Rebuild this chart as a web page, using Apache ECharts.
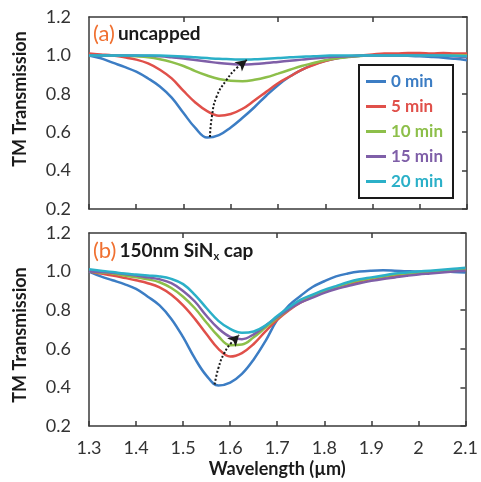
<!DOCTYPE html>
<html>
  <head>
    <meta charset="utf-8" />
    <title>TM Transmission</title>
    <script src="https://cdn.jsdelivr.net/npm/echarts@6/dist/echarts.min.js"></script>
    <style>
      html, body { margin: 0; padding: 0; background: #fff; }
      #chart { width: 481px; height: 482px; }
    </style>
  </head>
  <body>
    <div id="chart"></div>
    <script type="text/javascript">
      // Wavelength samples (um), 1.300 .. 2.100 every 0.025
      var wavelength = [1.300, 1.325, 1.350, 1.375, 1.400, 1.425, 1.450, 1.475, 1.500, 1.525, 1.550,
                        1.575, 1.600, 1.625, 1.650, 1.675, 1.700, 1.725, 1.750, 1.775, 1.800, 1.825,
                        1.850, 1.875, 1.900, 1.925, 1.950, 1.975, 2.000, 2.025, 2.050, 2.075, 2.100];

      var names = ['0 min', '5 min', '10 min', '15 min', '20 min'];
      var colors = ['#3c7dc4', '#e0504a', '#8dbf4a', '#7f5fa8', '#2bb0c8'];

      // (a) uncapped
      var uncapped0  = [1.00, 0.985, 0.962, 0.94, 0.915, 0.88, 0.838, 0.78, 0.70, 0.622, 0.572,
                        0.585, 0.625, 0.675, 0.73, 0.79, 0.845, 0.89, 0.925, 0.952, 0.972, 0.985,
                        0.993, 0.998, 1.00, 1.00, 1.00, 0.998, 0.995, 0.992, 0.988, 0.982, 0.975];
      var uncapped5  = [1.01, 1.005, 1.00, 0.99, 0.978, 0.958, 0.925, 0.88, 0.815, 0.755, 0.71,
                        0.686, 0.695, 0.722, 0.765, 0.81, 0.855, 0.89, 0.925, 0.95, 0.97, 0.985,
                        0.995, 1.00, 1.005, 1.01, 1.01, 1.012, 1.012, 1.01, 1.012, 1.01, 1.01];
      var uncapped10 = [1.00, 1.00, 1.00, 0.998, 0.995, 0.99, 0.98, 0.965, 0.945, 0.918, 0.895,
                        0.877, 0.868, 0.866, 0.873, 0.886, 0.905, 0.925, 0.945, 0.96, 0.975, 0.985,
                        0.992, 0.997, 1.00, 1.00, 1.00, 1.00, 1.00, 1.00, 1.00, 1.00, 1.00];
      var uncapped15 = [1.00, 1.00, 1.00, 1.00, 1.00, 0.998, 0.995, 0.99, 0.984, 0.976, 0.968,
                        0.96, 0.955, 0.952, 0.955, 0.96, 0.966, 0.972, 0.978, 0.984, 0.989, 0.993,
                        0.996, 0.998, 1.00, 1.00, 1.00, 1.00, 1.00, 1.00, 0.998, 0.995, 0.99];
      var uncapped20 = [1.00, 1.00, 1.00, 1.00, 1.00, 1.00, 0.999, 0.997, 0.994, 0.99, 0.986,
                        0.982, 0.98, 0.978, 0.98, 0.983, 0.986, 0.99, 0.993, 0.996, 0.998, 1.00,
                        1.00, 1.00, 1.00, 1.00, 1.00, 1.00, 1.00, 1.00, 1.00, 0.998, 0.995];

      // (b) 150nm SiNx cap
      var capped0  = [1.00, 0.975, 0.955, 0.935, 0.91, 0.87, 0.825, 0.755, 0.66, 0.55, 0.46,
                      0.41, 0.425, 0.47, 0.545, 0.64, 0.75, 0.825, 0.875, 0.92, 0.95, 0.975,
                      0.99, 1.00, 1.005, 1.007, 1.005, 1.002, 1.00, 1.00, 1.00, 0.998, 0.995];
      var capped5  = [1.00, 0.99, 0.98, 0.968, 0.955, 0.94, 0.918, 0.88, 0.825, 0.755, 0.675,
                      0.60, 0.56, 0.578, 0.625, 0.69, 0.75, 0.80, 0.84, 0.87, 0.90, 0.918,
                      0.935, 0.95, 0.962, 0.972, 0.98, 0.988, 0.995, 1.00, 1.005, 1.008, 1.01];
      var capped10 = [1.00, 0.995, 0.99, 0.98, 0.97, 0.96, 0.945, 0.915, 0.87, 0.81, 0.735,
                      0.665, 0.618, 0.622, 0.66, 0.71, 0.76, 0.805, 0.845, 0.875, 0.90, 0.92,
                      0.94, 0.955, 0.965, 0.975, 0.985, 0.99, 0.995, 1.00, 1.005, 1.01, 1.015];
      var capped15 = [1.00, 0.998, 0.994, 0.987, 0.98, 0.97, 0.96, 0.94, 0.90, 0.845, 0.77,
                      0.705, 0.662, 0.65, 0.675, 0.72, 0.765, 0.805, 0.84, 0.865, 0.89, 0.91,
                      0.925, 0.94, 0.952, 0.962, 0.97, 0.978, 0.985, 0.99, 0.995, 1.00, 1.005];
      var capped20 = [1.012, 1.005, 0.998, 0.99, 0.985, 0.98, 0.975, 0.962, 0.935, 0.88, 0.81,
                      0.745, 0.703, 0.683, 0.69, 0.72, 0.77, 0.815, 0.855, 0.88, 0.905, 0.925,
                      0.945, 0.96, 0.97, 0.98, 0.99, 0.995, 1.00, 1.005, 1.01, 1.015, 1.02];

      // dotted arrows (wavelength, transmission), from the 0 min dip toward the 20 min curve
      var arrowPathA = [[1.556, 0.575], [1.560, 0.68], [1.570, 0.785], [1.591, 0.872],
                        [1.612, 0.933], [1.634, 0.976]];
      var arrowPathB = [[1.567, 0.415], [1.575, 0.50], [1.587, 0.575], [1.602, 0.63],
                        [1.619, 0.672]];

      var topTicks = [1.5, 1.7, 1.9];

      var FONT = 'Lato';
      var AXIS = '#3a3a3a';

      function pairs(ys) {
        return wavelength.map(function (x, i) { return [x, ys[i]]; });
      }

      // axes per panel: x bottom = 2*panel, y left = 2*panel
      function curve(name, color, ys, panel) {
        return {
          name: name,
          type: 'line',
          xAxisIndex: panel * 2,
          yAxisIndex: panel * 2,
          data: pairs(ys),
          smooth: 0.4,
          symbol: 'none',
          lineStyle: { color: color, width: 2.5 },
          itemStyle: { color: color },
          z: 2
        };
      }

      function arrow(id, path, panel, rotate) {
        var last = path.length - 1;
        return {
          id: id,
          type: 'line',
          xAxisIndex: panel * 2,
          yAxisIndex: panel * 2,
          silent: true,
          smooth: 0.5,
          symbol: 'none',
          showSymbol: true,
          z: 5,
          lineStyle: { type: 'dotted', color: '#1a1a1a', width: 2 },
          itemStyle: { color: '#1a1a1a' },
          data: path.map(function (p, i) {
            if (i < last) return { value: p };
            return { value: p, symbol: 'arrow', symbolSize: [9, 11], symbolRotate: rotate || 0 };
          })
        };
      }

      function xAxes(idx, showLabels) {
        var bottom = {
          type: 'value', gridIndex: idx, position: 'bottom',
          min: 1.3, max: 2.1, interval: 0.1,
          axisLine: { lineStyle: { color: AXIS, width: 1.5 } },
          axisTick: { inside: true, length: 5, lineStyle: { color: AXIS, width: 1.5 } },
          splitLine: { show: false },
          axisLabel: {
            show: showLabels, margin: 13, color: '#333', fontSize: 18, fontFamily: FONT,
            formatter: function (v) { return String(+v.toFixed(1)); }
          }
        };
        if (showLabels) {
          bottom.name = 'Wavelength (\u00b5m)';
          bottom.nameLocation = 'middle';
          bottom.nameGap = 34;
          bottom.nameTextStyle = { fontSize: 18, fontWeight: 'bold', color: '#1a1a1a', fontFamily: FONT };
        }
        var top = {
          type: 'value', gridIndex: idx, position: 'top',
          min: 1.3, max: 2.1,
          axisLine: { lineStyle: { color: AXIS, width: 1.5 } },
          axisTick: { inside: true, length: 5, customValues: topTicks, lineStyle: { color: AXIS, width: 1.5 } },
          axisLabel: { show: false },
          splitLine: { show: false }
        };
        return [bottom, top];
      }

      function yAxes(idx) {
        var left = {
          type: 'value', gridIndex: idx, position: 'left',
          min: 0.2, max: 1.2, interval: 0.2,
          axisLine: { show: true, lineStyle: { color: AXIS, width: 1.5 } },
          axisTick: { show: false },
          splitLine: { show: false },
          axisLabel: {
            margin: 18, color: '#333', fontSize: 18, fontFamily: FONT,
            formatter: function (v) { return v.toFixed(1); }
          }
        };
        var right = {
          type: 'value', gridIndex: idx, position: 'right',
          min: 0.2, max: 1.2, interval: 0.2,
          axisLine: { show: true, lineStyle: { color: AXIS, width: 1.5 } },
          axisTick: { inside: true, length: 5, lineStyle: { color: AXIS, width: 1.5 } },
          axisLabel: { show: false },
          splitLine: { show: false }
        };
        return [left, right];
      }

      var setsA = [uncapped0, uncapped5, uncapped10, uncapped15, uncapped20];
      var setsB = [capped0, capped5, capped10, capped15, capped20];
      var series = [];
      names.forEach(function (n, i) { series.push(curve(n, colors[i], setsA[i], 0)); });
      names.forEach(function (n, i) { series.push(curve(n, colors[i], setsB[i], 1)); });
      series.push(arrow('arrowA', arrowPathA, 0));
      series.push(arrow('arrowB', arrowPathB, 1));

      // x axes: 0 bottom(a), 1 top(a), 2 bottom(b), 3 top(b); y axes likewise left/right
      var xs = xAxes(0, false).concat(xAxes(1, true));
      var ys = yAxes(0).concat(yAxes(1));

      var yTitle = function (y) {
        return {
          type: 'text', x: 20, y: y, rotation: Math.PI / 2,
          style: { text: 'TM Transmission', fontSize: 18, fontWeight: 'bold', fontFamily: FONT,
                   fill: '#1a1a1a', align: 'center', verticalAlign: 'middle' }
        };
      };
      var tagRich = {
        o: { fontSize: 22, fill: '#f07030', fontFamily: FONT, padding: [0, 3, 0, 0] },
        b: { fontSize: 19, fontWeight: 'bold', fill: '#1a1a1a', fontFamily: FONT },
        s: { fontSize: 11, fontWeight: 'bold', fill: '#1a1a1a', fontFamily: FONT, padding: [10, 0, 0, 0] }
      };

      var chart = echarts.init(document.getElementById('chart'));
      chart.setOption({
        animation: false,
        backgroundColor: '#fff',
        grid: [
          { left: 89, top: 17, width: 378, height: 192 },
          { left: 89, top: 233, width: 378, height: 193 }
        ],
        xAxis: xs,
        yAxis: ys,
        legend: {
          orient: 'vertical',
          left: 359, top: 65,
          padding: [8, 10, 8, 7],
          icon: 'rect',
          itemWidth: 20, itemHeight: 3, itemGap: 8,
          borderColor: '#1a1a1a', borderWidth: 2,
          backgroundColor: '#fff',
          selectedMode: false,
          data: names.map(function (n, i) {
            return { name: n, textStyle: { color: colors[i] } };
          }),
          textStyle: { fontSize: 17, lineHeight: 17, fontWeight: 'bold', fontFamily: FONT }
        },
        graphic: [
          yTitle(99),
          yTitle(335),
          {
            type: 'text', x: 93, y: 34,
            style: { text: '{o|(a)}{b|uncapped}', verticalAlign: 'middle', rich: tagRich }
          },
          {
            type: 'text', x: 93, y: 251,
            style: { text: '{o|(b)}{b|150nm SiN}{s|x}{b| cap}', verticalAlign: 'middle', rich: tagRich }
          }
        ],
        series: series
      });

      // point each arrowhead along the last step of its path
      function headAngle(path, panel) {
        var f = { xAxisIndex: panel * 2, yAxisIndex: panel * 2 };
        var a = chart.convertToPixel(f, path[path.length - 2]);
        var b = chart.convertToPixel(f, path[path.length - 1]);
        return -Math.atan2(b[0] - a[0], a[1] - b[1]) * 180 / Math.PI;
      }
      chart.setOption({
        series: [
          arrow('arrowA', arrowPathA, 0, headAngle(arrowPathA, 0)),
          arrow('arrowB', arrowPathB, 1, headAngle(arrowPathB, 1))
        ]
      });
    </script>
  </body>
</html>
